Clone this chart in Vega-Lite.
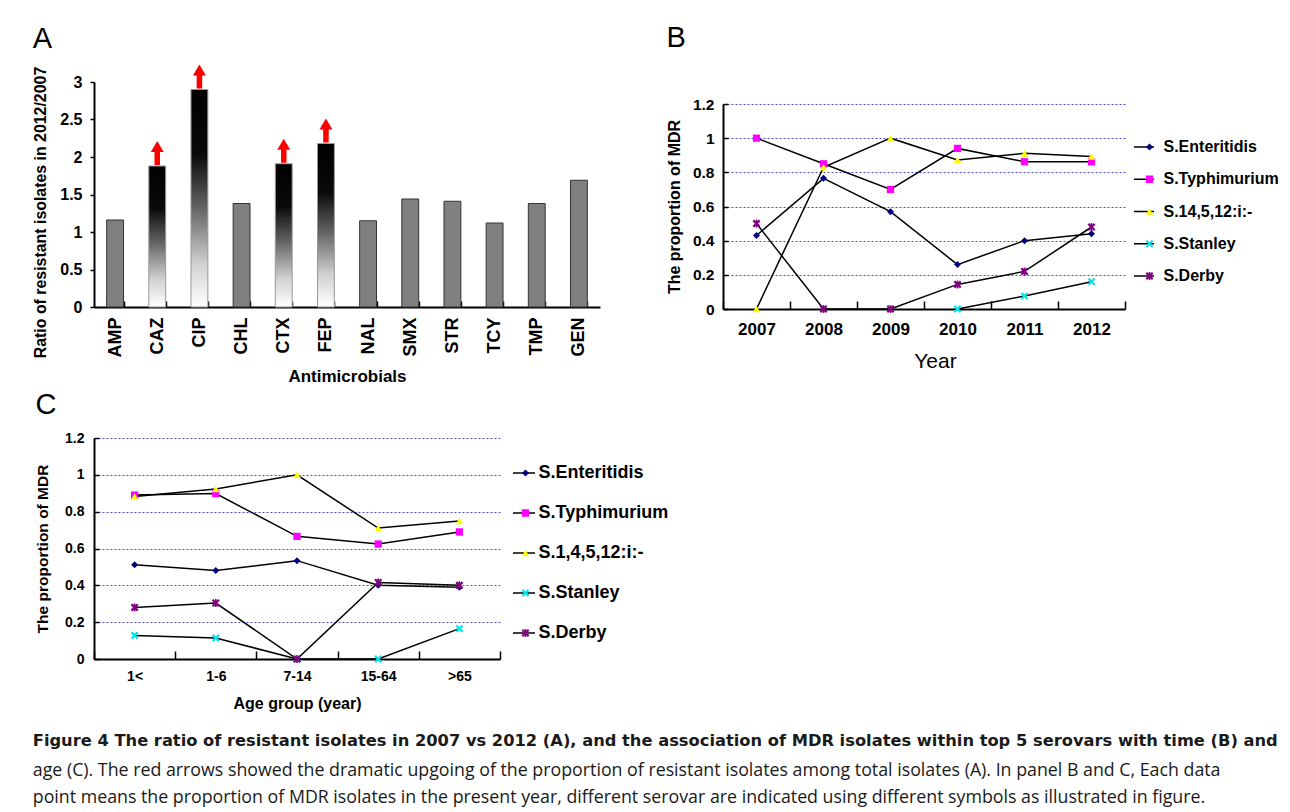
{
  "$schema": "https://vega.github.io/schema/vega-lite/v6.json",
  "background": "white",
  "padding": {"left": 32, "top": 24, "right": 5, "bottom": 5},
  "config": {
    "view": {"stroke": null},
    "font": "Liberation Sans",
    "axis": {"domainColor": "#000", "tickColor": "#000", "labelColor": "#000", "titleColor": "#000", "labelFont": "Liberation Sans", "titleFont": "Liberation Sans"},
    "legend": {"labelFont": "Liberation Sans", "labelColor": "#000"},
    "title": {"font": "Liberation Sans", "color": "#000"}
  },
  "datasets": {
    "ratio": [
      {"drug": "AMP", "ratio": 1.16, "group": "stable"},
      {"drug": "CAZ", "ratio": 1.88, "group": "rise"},
      {"drug": "CIP", "ratio": 2.9, "group": "rise"},
      {"drug": "CHL", "ratio": 1.38, "group": "stable"},
      {"drug": "CTX", "ratio": 1.91, "group": "rise"},
      {"drug": "FEP", "ratio": 2.18, "group": "rise"},
      {"drug": "NAL", "ratio": 1.15, "group": "stable"},
      {"drug": "SMX", "ratio": 1.44, "group": "stable"},
      {"drug": "STR", "ratio": 1.41, "group": "stable"},
      {"drug": "TCY", "ratio": 1.12, "group": "stable"},
      {"drug": "TMP", "ratio": 1.38, "group": "stable"},
      {"drug": "GEN", "ratio": 1.69, "group": "stable"}
    ],
    "byYear": [
      {"serovar": "S.Enteritidis", "year": "2007", "mdr": 0.43},
      {"serovar": "S.Enteritidis", "year": "2008", "mdr": 0.765},
      {"serovar": "S.Enteritidis", "year": "2009", "mdr": 0.57},
      {"serovar": "S.Enteritidis", "year": "2010", "mdr": 0.26},
      {"serovar": "S.Enteritidis", "year": "2011", "mdr": 0.4},
      {"serovar": "S.Enteritidis", "year": "2012", "mdr": 0.44},
      {"serovar": "S.Typhimurium", "year": "2007", "mdr": 1.0},
      {"serovar": "S.Typhimurium", "year": "2008", "mdr": 0.85},
      {"serovar": "S.Typhimurium", "year": "2009", "mdr": 0.7},
      {"serovar": "S.Typhimurium", "year": "2010", "mdr": 0.94},
      {"serovar": "S.Typhimurium", "year": "2011", "mdr": 0.862},
      {"serovar": "S.Typhimurium", "year": "2012", "mdr": 0.862},
      {"serovar": "S.14,5,12:i:-", "year": "2007", "mdr": 0.0},
      {"serovar": "S.14,5,12:i:-", "year": "2008", "mdr": 0.83},
      {"serovar": "S.14,5,12:i:-", "year": "2009", "mdr": 1.0},
      {"serovar": "S.14,5,12:i:-", "year": "2010", "mdr": 0.872},
      {"serovar": "S.14,5,12:i:-", "year": "2011", "mdr": 0.911},
      {"serovar": "S.14,5,12:i:-", "year": "2012", "mdr": 0.892},
      {"serovar": "S.Stanley", "year": "2010", "mdr": 0.0},
      {"serovar": "S.Stanley", "year": "2011", "mdr": 0.076},
      {"serovar": "S.Stanley", "year": "2012", "mdr": 0.16},
      {"serovar": "S.Derby", "year": "2007", "mdr": 0.5},
      {"serovar": "S.Derby", "year": "2008", "mdr": 0.0},
      {"serovar": "S.Derby", "year": "2009", "mdr": 0.0},
      {"serovar": "S.Derby", "year": "2010", "mdr": 0.144},
      {"serovar": "S.Derby", "year": "2011", "mdr": 0.22},
      {"serovar": "S.Derby", "year": "2012", "mdr": 0.48}
    ],
    "byAge": [
      {"serovar": "S.Enteritidis", "age": "1<", "mdr": 0.512},
      {"serovar": "S.Enteritidis", "age": "1-6", "mdr": 0.48},
      {"serovar": "S.Enteritidis", "age": "7-14", "mdr": 0.534},
      {"serovar": "S.Enteritidis", "age": "15-64", "mdr": 0.4},
      {"serovar": "S.Enteritidis", "age": ">65", "mdr": 0.39},
      {"serovar": "S.Typhimurium", "age": "1<", "mdr": 0.89},
      {"serovar": "S.Typhimurium", "age": "1-6", "mdr": 0.898},
      {"serovar": "S.Typhimurium", "age": "7-14", "mdr": 0.666},
      {"serovar": "S.Typhimurium", "age": "15-64", "mdr": 0.624},
      {"serovar": "S.Typhimurium", "age": ">65", "mdr": 0.69},
      {"serovar": "S.1,4,5,12:i:-", "age": "1<", "mdr": 0.883},
      {"serovar": "S.1,4,5,12:i:-", "age": "1-6", "mdr": 0.923},
      {"serovar": "S.1,4,5,12:i:-", "age": "7-14", "mdr": 1.0},
      {"serovar": "S.1,4,5,12:i:-", "age": "15-64", "mdr": 0.711},
      {"serovar": "S.1,4,5,12:i:-", "age": ">65", "mdr": 0.749},
      {"serovar": "S.Stanley", "age": "1<", "mdr": 0.128},
      {"serovar": "S.Stanley", "age": "1-6", "mdr": 0.114},
      {"serovar": "S.Stanley", "age": "7-14", "mdr": 0.0},
      {"serovar": "S.Stanley", "age": "15-64", "mdr": 0.0},
      {"serovar": "S.Stanley", "age": ">65", "mdr": 0.165},
      {"serovar": "S.Derby", "age": "1<", "mdr": 0.28},
      {"serovar": "S.Derby", "age": "1-6", "mdr": 0.304},
      {"serovar": "S.Derby", "age": "7-14", "mdr": 0.0},
      {"serovar": "S.Derby", "age": "15-64", "mdr": 0.416},
      {"serovar": "S.Derby", "age": ">65", "mdr": 0.4}
    ]
  },
  "title": {
    "text": "Figure 4 The ratio of resistant isolates in 2007 vs 2012 (A), and the association of MDR isolates within top 5 serovars with time (B) and",
    "subtitle": ["age (C). The red arrows showed the dramatic upgoing of the proportion of resistant isolates among total isolates (A). In panel B and C, Each data", "point means the proportion of MDR isolates in the present year, different serovar are indicated using different symbols as illustrated in figure."],
    "orient": "bottom", "anchor": "start", "frame": "bounds",
    "font": "DejaVu Sans", "fontSize": 16.3, "fontWeight": "bold", "color": "#1a1a1a",
    "subtitleFont": "Open Sans", "subtitleFontSize": 17.8, "subtitleFontWeight": "normal", "subtitleColor": "#1a1a1a",
    "subtitleLineHeight": 27, "subtitlePadding": 13, "offset": 22
  },
  "spacing": 6,
  "resolve": {"scale": {"x": "independent", "y": "independent", "color": "independent", "shape": "independent", "stroke": "independent", "size": "independent"}, "legend": {"color": "independent", "shape": "independent", "stroke": "independent"}},
  "vconcat": [
    {
      "spacing": 66,
      "resolve": {"scale": {"x": "independent", "y": "independent", "color": "independent", "shape": "independent", "stroke": "independent", "size": "independent"}, "legend": {"color": "independent", "shape": "independent", "stroke": "independent"}},
      "hconcat": [
        {
          "width": 506, "height": 225,
          "title": {"text": "A", "anchor": "start", "fontSize": 29, "fontWeight": "normal", "offset": 11},
          "data": {"name": "ratio"},
          "encoding": {
            "x": {"field": "drug", "type": "nominal",
              "scale": {"domain": ["AMP", "CAZ", "CIP", "CHL", "CTX", "FEP", "NAL", "SMX", "STR", "TCY", "TMP", "GEN"], "paddingInner": 0.6, "paddingOuter": 0.3},
              "axis": {"title": "Antimicrobials", "labelAngle": -90, "labelFontSize": 18, "labelFontWeight": "bold", "titleFontSize": 17, "titleFontWeight": "bold", "tickBand": "extent", "tickSize": -6, "tickWidth": 1.5, "domainWidth": 2, "labelPadding": 16, "titlePadding": 12}},
            "y": {"field": "ratio", "type": "quantitative", "scale": {"domain": [0, 3]},
              "axis": {"title": "Ratio of resistant isolates in 2012/2007", "values": [0, 0.5, 1, 1.5, 2, 2.5, 3], "format": "~g", "grid": false, "labelFontSize": 16, "labelFontWeight": "bold", "titleFontSize": 15.9, "titleFontWeight": "bold", "tickSize": 4, "tickWidth": 1.5, "domainWidth": 2, "labelPadding": 8, "titlePadding": 11, "titleY": 130}}
          },
          "layer": [
            {"transform": [{"filter": "datum.group == 'stable'"}], "mark": {"type": "bar", "color": "#808080", "stroke": "#333333", "strokeWidth": 1}},
            {"transform": [{"filter": "datum.group == 'rise'"}], "mark": {"type": "bar", "stroke": "#999999", "strokeWidth": 1,
              "color": {"gradient": "linear", "x1": 0, "y1": 0, "x2": 0, "y2": 1, "stops": [{"offset": 0, "color": "#000000"}, {"offset": 0.3, "color": "#0a0a0a"}, {"offset": 0.55, "color": "#666666"}, {"offset": 0.8, "color": "#d0d0d0"}, {"offset": 1, "color": "#ffffff"}]}}},
            {"transform": [{"filter": "datum.group == 'rise'"}], "mark": {"type": "point", "filled": true, "opacity": 1, "color": "#ff0000", "strokeWidth": 0, "size": 576, "yOffset": -13,
              "shape": "M-0.23,1L0.23,1L0.23,-0.08L0.54,-0.08L0,-1L-0.54,-0.08L-0.23,-0.08Z"}}
          ]
        },
        {
          "width": 402, "height": 227,
          "title": {"text": "B", "anchor": "start", "fontSize": 29, "fontWeight": "normal", "offset": 29},
          "data": {"name": "byYear"},
          "encoding": {
            "x": {"field": "year", "type": "ordinal", "bandPosition": 0.5,
              "scale": {"type": "band", "domain": ["2007", "2008", "2009", "2010", "2011", "2012"], "paddingInner": 0, "paddingOuter": 0},
              "axis": {"title": "Year", "titleX": 212, "labelAngle": 0, "labelFontSize": 17, "labelFontWeight": "bold", "titleFontSize": 21, "titleFontWeight": "normal", "tickBand": "extent", "tickSize": -8, "tickWidth": 1.5, "domainWidth": 2, "labelPadding": 20, "titlePadding": 13}},
            "y": {"field": "mdr", "type": "quantitative", "scale": {"domain": [0, 1.2], "range": [227, 22]},
              "axis": {"title": "The proportion of MDR", "values": [0, 0.2, 0.4, 0.6, 0.8, 1, 1.2], "format": "~g", "grid": true, "gridColor": "#4b4bd0", "gridDash": [2, 2], "gridWidth": 1, "labelFontSize": 15.5, "labelFontWeight": "bold", "titleFontSize": 16, "titleFontWeight": "bold", "tickSize": -5, "tickWidth": 1.5, "domainWidth": 2, "labelPadding": 14, "titlePadding": 10}}
          },
          "layer": [
            {"mark": {"type": "line", "strokeWidth": 1.5},
              "encoding": {
                "order": {"value": null},
                "stroke": {"field": "serovar", "type": "nominal", "scale": {"range": ["#000000"]},
                  "legend": {"title": null, "orient": "none", "legendX": 410, "legendY": 55, "symbolType": "stroke", "symbolSize": 400, "symbolStrokeWidth": 1.5, "symbolStrokeColor": "#000000", "labelExpr": "''", "clipHeight": 20, "rowPadding": 12.25, "padding": 0, "zindex": 0, "labelFontSize": 16}}
              }},
            {"mark": {"type": "point", "filled": true, "opacity": 1, "strokeWidth": 0},
              "encoding": {
                "color": {"field": "serovar", "type": "nominal",
                  "scale": {"domain": ["S.Enteritidis", "S.Typhimurium", "S.14,5,12:i:-", "S.Stanley", "S.Derby"], "range": ["#000080", "#ff00ff", "#ffff00", "#00e5ee", "#800080"]},
                  "legend": {"title": null, "orient": "none", "legendX": 418.5, "legendY": 55, "symbolSize": 49, "symbolStrokeWidth": 0, "symbolOpacity": 1, "clipHeight": 20, "rowPadding": 12.25, "padding": 0, "zindex": 1, "labelFontSize": 16, "labelFontWeight": "bold", "labelOffset": 6}},
                "shape": {"field": "serovar", "type": "nominal",
                  "scale": {"domain": ["S.Enteritidis", "S.Typhimurium", "S.14,5,12:i:-", "S.Stanley", "S.Derby"], "range": ["diamond", "square", "triangle-up", "M-1,-0.6L-0.6,-1L0,-0.4L0.6,-1L1,-0.6L0.4,0L1,0.6L0.6,1L0,0.4L-0.6,1L-1,0.6L-0.4,0Z", "M-1,-0.6L-0.6,-1L0,-0.4L0.6,-1L1,-0.6L0.4,0L1,0.6L0.6,1L0,0.4L-0.6,1L-1,0.6L-0.4,0ZM-0.2,-1L0.2,-1L0.2,1L-0.2,1Z"]}},
                "size": {"field": "serovar", "type": "ordinal", "legend": null,
                  "scale": {"domain": ["S.Enteritidis", "S.Typhimurium", "S.14,5,12:i:-", "S.Stanley", "S.Derby"], "range": [49, 64, 72, 30, 40]}}
              }}
          ]
        }
      ]
    },
    {
      "width": 406, "height": 221,
      "title": {"text": "C", "anchor": "start", "fontSize": 29, "fontWeight": "normal", "offset": 11},
      "data": {"name": "byAge"},
      "encoding": {
        "x": {"field": "age", "type": "ordinal", "bandPosition": 0.5,
          "scale": {"type": "band", "domain": ["1<", "1-6", "7-14", "15-64", ">65"], "paddingInner": 0, "paddingOuter": 0},
          "axis": {"title": "Age group (year)", "labelAngle": 0, "labelFontSize": 14, "labelFontWeight": "bold", "titleFontSize": 16, "titleFontWeight": "bold", "tickBand": "extent", "tickSize": -8, "tickWidth": 1.5, "domainWidth": 2, "labelPadding": 18, "titlePadding": 12}},
        "y": {"field": "mdr", "type": "quantitative", "scale": {"domain": [0, 1.2]},
          "axis": {"title": "The proportion of MDR", "values": [0, 0.2, 0.4, 0.6, 0.8, 1, 1.2], "format": "~g", "grid": true, "gridColor": "#4b4bd0", "gridDash": [2, 2], "gridWidth": 1, "labelFontSize": 14, "labelFontWeight": "bold", "titleFontSize": 15.5, "titleFontWeight": "bold", "tickSize": -5, "tickWidth": 1.5, "domainWidth": 2, "labelPadding": 15, "titlePadding": 14}}
      },
      "layer": [
        {"mark": {"type": "line", "strokeWidth": 1.5},
          "encoding": {
            "order": {"value": null},
            "stroke": {"field": "serovar", "type": "nominal", "scale": {"range": ["#000000"]},
              "legend": {"title": null, "orient": "none", "legendX": 418, "legendY": 25, "symbolType": "stroke", "symbolSize": 484, "symbolStrokeWidth": 1.5, "symbolStrokeColor": "#000000", "labelExpr": "''", "clipHeight": 20, "rowPadding": 20, "padding": 0, "zindex": 0, "labelFontSize": 18}}
          }},
        {"mark": {"type": "point", "filled": true, "opacity": 1, "strokeWidth": 0},
          "encoding": {
            "color": {"field": "serovar", "type": "nominal",
              "scale": {"domain": ["S.Enteritidis", "S.Typhimurium", "S.1,4,5,12:i:-", "S.Stanley", "S.Derby"], "range": ["#000080", "#ff00ff", "#ffff00", "#00e5ee", "#800080"]},
              "legend": {"title": null, "orient": "none", "legendX": 422.5, "legendY": 25, "symbolSize": 49, "symbolStrokeWidth": 0, "symbolOpacity": 1, "clipHeight": 20, "rowPadding": 20, "padding": 0, "zindex": 1, "labelFontSize": 18, "labelFontWeight": "bold", "labelOffset": 4}},
            "shape": {"field": "serovar", "type": "nominal",
              "scale": {"domain": ["S.Enteritidis", "S.Typhimurium", "S.1,4,5,12:i:-", "S.Stanley", "S.Derby"], "range": ["diamond", "square", "triangle-up", "M-1,-0.6L-0.6,-1L0,-0.4L0.6,-1L1,-0.6L0.4,0L1,0.6L0.6,1L0,0.4L-0.6,1L-1,0.6L-0.4,0Z", "M-1,-0.6L-0.6,-1L0,-0.4L0.6,-1L1,-0.6L0.4,0L1,0.6L0.6,1L0,0.4L-0.6,1L-1,0.6L-0.4,0ZM-0.2,-1L0.2,-1L0.2,1L-0.2,1Z"]}},
            "size": {"field": "serovar", "type": "ordinal", "legend": null,
              "scale": {"domain": ["S.Enteritidis", "S.Typhimurium", "S.1,4,5,12:i:-", "S.Stanley", "S.Derby"], "range": [49, 64, 72, 30, 40]}}
          }}
      ]
    }
  ]
}
